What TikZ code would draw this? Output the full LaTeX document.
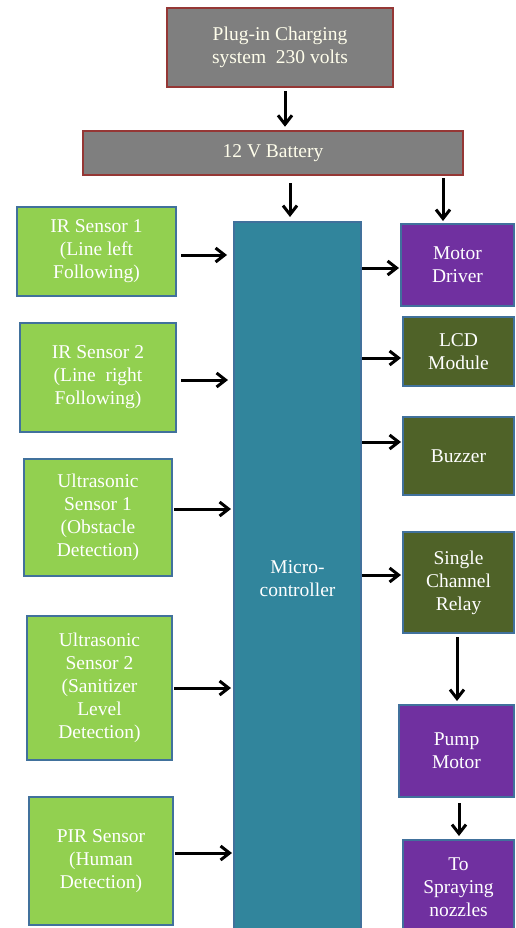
\documentclass[tikz,border=0pt]{standalone}
\usepackage{fontspec}
\setmainfont{Liberation Serif}
\usetikzlibrary{arrows.meta}
\definecolor{chgray}{HTML}{7F7F7F}
\definecolor{chred}{HTML}{953735}
\definecolor{sengreen}{HTML}{92D050}
\definecolor{edgeblue}{HTML}{41719C}
\definecolor{mcuteal}{HTML}{31859C}
\definecolor{outpurple}{HTML}{7030A0}
\definecolor{outolive}{HTML}{4F6228}

\begin{document}
\begin{tikzpicture}[x=1pt, y=-1pt,
    box/.style={inner sep=0pt, align=center, text=white, line width=2pt,
                font=\fontsize{19.5}{23}\selectfont},
    power/.style={box, draw=chred, fill=chgray, line width=2.5pt, text=white!92!yellow},
    sensor/.style={box, draw=edgeblue, fill=sengreen},
    mcu/.style={box, draw=edgeblue, fill=mcuteal},
    drive/.style={box, draw=edgeblue, fill=outpurple},
    module/.style={box, draw=edgeblue, fill=outolive},
    arr/.style={-{Straight Barb[length=9pt,width=14pt]}, line width=3pt, black}]
  \clip (0,0) rectangle (515,928);
  % power supply
  \node[power, minimum width=226pt, minimum height=79pt] (plug) at (280,47.5)
    {Plug-in Charging\\system\ \ 230 volts};
  \node[power, minimum width=380pt, minimum height=44pt] (battery) at (273,153) {12 V Battery};
  % controller
  \node[mcu, minimum width=127pt, minimum height=713pt] (micro) at (297.5,578.5) {Micro-\\controller};
  % sensors
  \node[sensor, minimum width=159pt, minimum height=89pt]  (ir1) at (96.5,251.5) {IR Sensor 1\\(Line left\\Following)};
  \node[sensor, minimum width=156pt, minimum height=109pt] (ir2) at (98,377.5) {IR Sensor 2\\(Line\ \ right\\Following)};
  \node[sensor, minimum width=148pt, minimum height=117pt] (us1) at (98,517.5) {Ultrasonic\\Sensor 1\\(Obstacle\\Detection)};
  \node[sensor, minimum width=145pt, minimum height=144pt] (us2) at (99.5,688) {Ultrasonic\\Sensor 2\\(Sanitizer\\Level\\Detection)};
  \node[sensor, minimum width=144pt, minimum height=128pt] (pir) at (101,861) {PIR Sensor\\(Human\\Detection)};
  % outputs
  \node[drive, minimum width=113pt, minimum height=82pt]   (motor) at (457.5,265) {Motor\\Driver};
  \node[module, minimum width=111pt, minimum height=69pt]  (lcd) at (458.5,351.5) {LCD\\Module};
  \node[module, minimum width=111pt, minimum height=78pt]  (buzzer) at (458.5,456) {Buzzer};
  \node[module, minimum width=111pt, minimum height=101pt] (relay) at (458.5,582.5) {Single\\Channel\\Relay};
  \node[drive, minimum width=115pt, minimum height=92pt]   (pump) at (456.5,751) {Pump\\Motor};
  \node[drive, minimum width=111pt, minimum height=94pt]   (spray) at (458.5,887) {To\\Spraying\\nozzles};
  % supply arrows
  \draw[arr] ([xshift=5pt,yshift=-3pt]plug.south) -- ([xshift=5pt,yshift=3pt]plug.south |- battery.north);
  \draw[arr] ([xshift=-7.5pt,yshift=-7pt]micro.north |- battery.south) -- ([xshift=-7.5pt,yshift=4pt]micro.north);
  \draw[arr] ([xshift=-14.5pt,yshift=-2pt]motor.north |- battery.south) -- ([xshift=-14.5pt,yshift=2pt]motor.north);
  % sensor inputs
  \draw[arr] ([xshift=4pt,yshift=-3.5pt]ir1.east) -- ([xshift=-6pt,yshift=-3.5pt]ir1.east -| micro.west);
  \draw[arr] ([xshift=4pt,yshift=-2.5pt]ir2.east) -- ([xshift=-5pt,yshift=-2.5pt]ir2.east -| micro.west);
  \draw[arr] ([xshift=1pt,yshift=8.5pt]us1.east) -- ([xshift=-2pt,yshift=8.5pt]us1.east -| micro.west);
  \draw[arr] ([xshift=1pt]us2.east) -- ([xshift=-2pt]us2.east -| micro.west);
  \draw[arr] ([xshift=1pt,yshift=8pt]pir.east) -- ([xshift=-1pt,yshift=8pt]pir.east -| micro.west);
  % controller outputs
  \draw[arr] ([yshift=-3pt]motor.west -| micro.east) -- ([xshift=-1pt,yshift=-3pt]motor.west);
  \draw[arr] ([yshift=-6.5pt]lcd.west -| micro.east) -- ([xshift=-1pt,yshift=-6.5pt]lcd.west);
  \draw[arr] ([yshift=14pt]buzzer.west -| micro.east) -- ([xshift=-1pt,yshift=14pt]buzzer.west);
  \draw[arr] ([yshift=7.5pt]relay.west -| micro.east) -- ([xshift=-1pt,yshift=7.5pt]relay.west);
  % actuator chain
  \draw[arr] ([xshift=-1.5pt,yshift=-3pt]relay.south) -- ([xshift=-1.5pt,yshift=3pt]relay.south |- pump.north);
  \draw[arr] ([xshift=2.5pt,yshift=-5pt]pump.south) -- ([xshift=2.5pt,yshift=3pt]pump.south |- spray.north);
\end{tikzpicture}
\end{document}
